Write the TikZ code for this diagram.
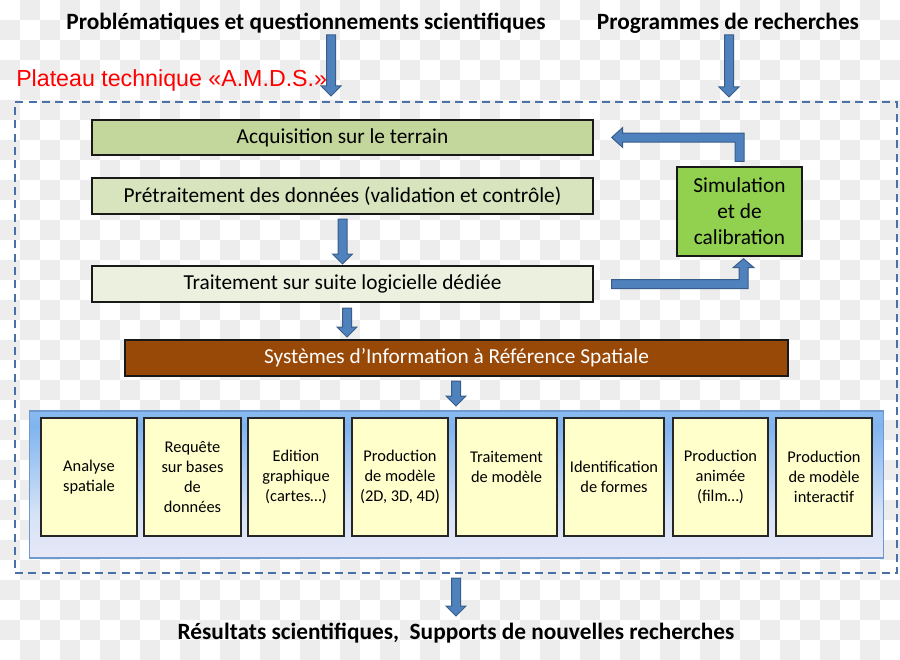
\documentclass[tikz,border=0pt]{standalone}
\usepackage{fontspec}
\setmainfont{Carlito}
\newfontfamily\arialfont{Liberation Sans}
\usetikzlibrary{calc}
\definecolor{chk}{HTML}{EDEDED}
\definecolor{acqc}{HTML}{C3D69B}
\definecolor{prec}{HTML}{D7E4BD}
\definecolor{trtc}{HTML}{EBF1DE}
\definecolor{simc}{HTML}{92D050}
\definecolor{sirsc}{HTML}{984807}
\definecolor{boxy}{HTML}{FFFFCC}
\definecolor{arrf}{HTML}{4F81BD}
\definecolor{arrd}{HTML}{385D8A}
\definecolor{dashc}{HTML}{4A70A8}
\definecolor{panb}{HTML}{6F9AD0}
\definecolor{pbot}{HTML}{F6ECF7}
\definecolor{plow}{HTML}{D6E3F7}
\definecolor{pmid}{HTML}{80B4EF}
\definecolor{ptop}{HTML}{BCD6F5}
\pgfdeclareverticalshading{panelshade}{100bp}{color(0bp)=(pbot); color(12bp)=(pbot); color(40bp)=(plow); color(70bp)=(pmid); color(100bp)=(ptop)}
\newcommand\blockdown[2]{\draw[blockarrow] ($(#1)+(-4.5,0)$) -- ($(#2)+(-4.5,-10)$) -- ($(#2)+(-10,-10)$) -- (#2) -- ($(#2)+(10,-10)$) -- ($(#2)+(4.5,-10)$) -- ($(#1)+(4.5,0)$) -- cycle;}
\begin{document}
\begin{tikzpicture}[x=0.75pt,y=-0.75pt,
  blockarrow/.style={fill=arrf,draw=arrd,line width=0.75pt,line join=miter},
  titletext/.style={inner sep=0pt,font=\bfseries\fontsize{17.5}{21}\selectfont},
  mainbox/.style={draw=black!90,line width=1.1pt,inner sep=0pt,minimum width=501*0.75pt,font=\fontsize{16}{19}\selectfont},
  smallbox/.style={draw=black!85,line width=1.1pt,fill=boxy,inner sep=0pt,minimum height=118*0.75pt,align=center,font=\fontsize{12.3}{15}\selectfont}]
\useasboundingbox (0,0) rectangle (900,660);
% checkerboard background
\foreach \i in {0,...,44}{\foreach \j in {0,...,32}{%
  \pgfmathtruncatemacro\k{\i+\j}%
  \ifodd\k \fill[chk] (\i*20,\j*20) rectangle ++(20,20); \fi}}
% titles
\node[titletext] (prob) at (306,23) {Problématiques et questionnements scientifiques};
\node[titletext] (prog) at (728,23) {Programmes de recherches};
\node[inner sep=0pt,anchor=west,text=red,font=\arialfont\fontsize{17.4}{20}\selectfont] (plat) at (16,81) {Plateau technique «A.M.D.S.»};
% dashed frame
\node[draw=dashc,line width=1.5pt,dash pattern=on 6pt off 4pt,minimum width=882*0.75pt,minimum height=471*0.75pt,inner sep=0pt] (frame) at (456,337.5) {};
% main boxes
\node[mainbox,fill=acqc,minimum height=35*0.75pt] (acq) at (342.5,137.5) {\raisebox{-1pt}{Acquisition sur le terrain}};
\node[mainbox,fill=prec,minimum height=36*0.75pt] (pre) at (342.5,196) {\raisebox{-1pt}{Prétraitement des données (validation et contrôle)}};
\node[mainbox,fill=trtc,minimum height=36*0.75pt] (trt) at (342.5,284) {\raisebox{-1pt}{Traitement sur suite logicielle dédiée}};
\node[draw=black!90,line width=1.1pt,fill=simc,minimum width=125*0.75pt,minimum height=89*0.75pt,inner sep=0pt,align=center,font=\fontsize{16}{19.5}\selectfont] (sim) at (739.5,211.5) {Simulation\\et de\\calibration};
\node[draw=black!90,line width=1.1pt,fill=sirsc,text=white,minimum width=663*0.75pt,minimum height=36*0.75pt,inner sep=0pt,font=\fontsize{16}{19}\selectfont] (sirs) at (456.5,358) {\raisebox{-1pt}{Systèmes d’Information à Référence Spatiale}};
% panel
\node[draw=panb,line width=0.8pt,shading=panelshade,minimum width=854*0.75pt,minimum height=147*0.75pt,inner sep=0pt] (panel) at (456.5,484.5) {};
\node[smallbox,minimum width=96*0.75pt] (b1) at (89,477) {Analyse\\spatiale};
\node[smallbox,minimum width=97*0.75pt] (b2) at (192.5,477) {Requête\\sur bases\\de\\données};
\node[smallbox,minimum width=96*0.75pt] (b3) at (296,477) {Edition\\graphique\\(cartes…)};
\node[smallbox,minimum width=96*0.75pt] (b4) at (400,477) {Production\\de modèle\\(2D, 3D, 4D)};
\node[smallbox,minimum width=101*0.75pt] (b5) at (506.5,477) {Traitement\\de modèle\\\mbox{}};
\node[smallbox,minimum width=100*0.75pt] (b6) at (614,477) {Identification\\de formes};
\node[smallbox,minimum width=95*0.75pt] (b7) at (720.5,477) {Production\\animée\\(film…)};
\node[smallbox,minimum width=96*0.75pt] (b8) at (824,477) {Production\\de modèle\\interactif};
% bottom text
\node[titletext] (res) at (456,633) {Résultats scientifiques,\ \ Supports de nouvelles recherches};
% arrow end coordinates
\coordinate (a1s) at (331,35);  \coordinate (a1t) at (331,96);
\coordinate (a2s) at (729,35);  \coordinate (a2t) at (729,97);
\coordinate (a3s) at (342.5,219); \coordinate (a3t) at (342.5,264);
\coordinate (a4s) at (347,308); \coordinate (a4t) at (347,337);
\coordinate (a5s) at (456,381); \coordinate (a5t) at (456,406);
\coordinate (a6s) at (456,578); \coordinate (a6t) at (456,616);
\blockdown{a1s}{a1t}
\blockdown{a2s}{a2t}
\blockdown{a3s}{a3t}
\blockdown{a4s}{a4t}
\blockdown{a5s}{a5t}
\blockdown{a6s}{a6t}
% feedback arrow: simulation -> acquisition
\draw[blockarrow] ($(sim.north)+(-4.5,-5)$) -- ($(sim.north |- acq.east)+(-4.5,4.5)$) -- ($(acq.east)+(29,4.5)$) -- ($(acq.east)+(29,10)$) -- ($(acq.east)+(18,0)$) -- ($(acq.east)+(29,-10)$) -- ($(acq.east)+(29,-4.5)$) -- ($(sim.north |- acq.east)+(4.5,-4.5)$) -- ($(sim.north)+(4.5,-5)$) -- cycle;
% traitement -> simulation
\draw[blockarrow] ($(trt.east)+(18,-4.5)$) -- ($(sim.south |- trt.east)+(-0.5,-4.5)$) -- ($(sim.south)+(-0.5,11)$) -- ($(sim.south)+(-6.5,11)$) -- ($(sim.south)+(4,2)$) -- ($(sim.south)+(14.5,11)$) -- ($(sim.south)+(8.5,11)$) -- ($(sim.south |- trt.east)+(8.5,4.5)$) -- ($(trt.east)+(18,4.5)$) -- cycle;
\end{tikzpicture}
\end{document}
